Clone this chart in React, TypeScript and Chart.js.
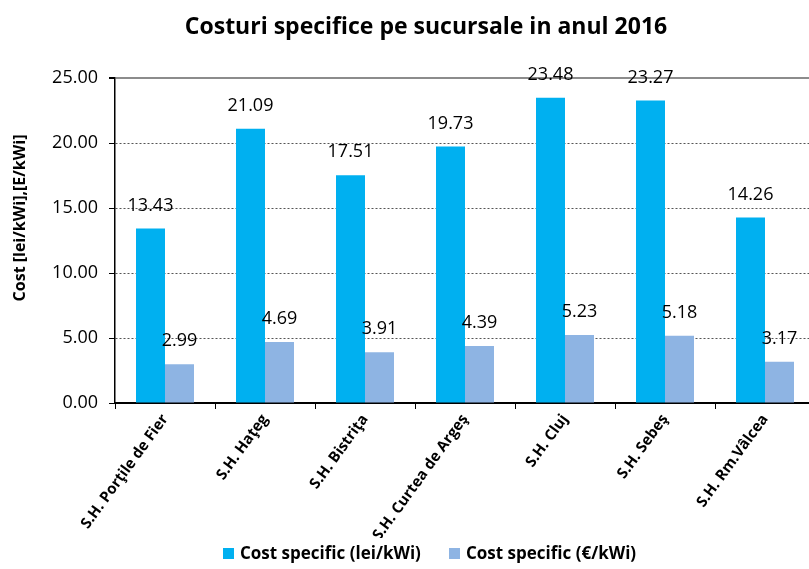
import React, { useEffect, useRef } from "react";
import { Chart, registerables } from "chart.js";

Chart.register(...registerables);

const categories = [
  "S.H. Porţile de Fier",
  "S.H. Haţeg",
  "S.H. Bistriţa",
  "S.H. Curtea de Argeş",
  "S.H. Cluj",
  "S.H. Sebeş",
  "S.H. Rm.Vâlcea",
];
const costLei = [13.43, 21.09, 17.51, 19.73, 23.48, 23.27, 14.26];
const costEur = [2.99, 4.69, 3.91, 4.39, 5.23, 5.18, 3.17];
const seriesNames = ["Cost specific (lei/kWi)", "Cost specific (€/kWi)"];
const seriesColors = ["#00B0F0", "#8EB4E3"];
const titleText = "Costuri specifice pe sucursale in anul 2016";
const yTitleText = "Cost [lei/kWi],[E/kWi]";
const FONT = "'Open Sans', 'DejaVu Sans', sans-serif";

const overlayPlugin = {
  id: "overlay",
  afterDatasetsDraw(chart: any) {
    const ctx = chart.ctx;
    ctx.save();
    // data labels
    ctx.fillStyle = "#000";
    ctx.font = `18px ${FONT}`;
    ctx.textAlign = "center";
    ctx.textBaseline = "middle";
    chart.data.datasets.forEach((ds: any, di: number) => {
      const meta = chart.getDatasetMeta(di);
      meta.data.forEach((bar: any, i: number) => {
        ctx.fillText(Number(ds.data[i]).toFixed(2), bar.x, bar.y - 23);
      });
    });
    // title
    ctx.font = `bold 23px ${FONT}`;
    ctx.fillText(titleText, 426, 27);
    // y title
    ctx.save();
    ctx.translate(20, 218);
    ctx.rotate(-Math.PI / 2);
    ctx.font = `bold 16px ${FONT}`;
    ctx.fillText(yTitleText, 0, 0);
    ctx.restore();
    // legend (with white box, as in the original)
    ctx.fillStyle = "#fff";
    ctx.fillRect(212, 538, 440, 31);
    const legendX = [223, 449];
    ctx.font = `bold 17px ${FONT}`;
    ctx.textAlign = "left";
    seriesNames.forEach((name, i) => {
      ctx.fillStyle = seriesColors[i];
      ctx.fillRect(legendX[i], 548, 11, 11);
      ctx.fillStyle = "#000";
      ctx.fillText(name, legendX[i] + 17, 554);
    });
    ctx.restore();
  },
};

export default function App() {
  const ref = useRef<HTMLCanvasElement>(null);
  useEffect(() => {
    if (!ref.current) return;
    Chart.defaults.font.family = FONT;
    const chart = new Chart(ref.current, {
      type: "bar",
      data: {
        labels: categories,
        datasets: [
          {
            label: seriesNames[0],
            data: costLei,
            backgroundColor: seriesColors[0],
            categoryPercentage: 0.58,
            barPercentage: 1,
          },
          {
            label: seriesNames[1],
            data: costEur,
            backgroundColor: seriesColors[1],
            categoryPercentage: 0.58,
            barPercentage: 1,
          },
        ],
      },
      options: {
        responsive: false,
        animation: false,
        layout: { padding: { top: 78, left: 0, right: 10, bottom: 0 } },
        plugins: {
          legend: { display: false },
          title: { display: false },
          tooltip: { enabled: false },
        },
        scales: {
          x: {
            afterFit: (s: any) => {
              s.height = 166;
              s.paddingLeft = 0;
              s.paddingRight = 0;
            },
            grid: {
              drawOnChartArea: false,
              drawTicks: true,
              tickLength: 6,
              tickColor: "#000",
              offset: true,
            },
            border: { color: "#000", width: 2 },
            ticks: {
              color: "#000",
              font: { size: 15, weight: "bold", family: FONT },
              minRotation: 54,
              maxRotation: 54,
              autoSkip: false,
              padding: 2,
            },
          },
          y: {
            min: 0,
            max: 25,
            afterFit: (s: any) => {
              s.width = 115;
            },
            grid: {
              color: (c: any) =>
                c.tick && c.tick.value === 25
                  ? "#8c8c8c"
                  : c.tick && c.tick.value === 0
                  ? "rgba(0,0,0,0)"
                  : "#555",
              lineWidth: (c: any) => (c.tick && c.tick.value === 25 ? 2 : 1),
              tickColor: "#000",
              tickLength: 6,
            },
            border: {
              color: "#000",
              width: 1.5,
              dash: (c: any) => (c.tick && c.tick.value === 25 ? [] : [2, 2]),
            },
            ticks: {
              stepSize: 5,
              color: "#000",
              font: { size: 18, family: FONT },
              padding: 11,
              callback: (v: any) => Number(v).toFixed(2),
            },
          },
        },
      },
      plugins: [overlayPlugin],
    } as any);
    return () => chart.destroy();
  }, []);
  return (
    <div
      style={{
        position: "fixed",
        left: 0,
        top: 0,
        width: 809,
        height: 569,
        overflow: "hidden",
        background: "#fff",
      }}
    >
      <canvas ref={ref} width={825} height={569} />
    </div>
  );
}
